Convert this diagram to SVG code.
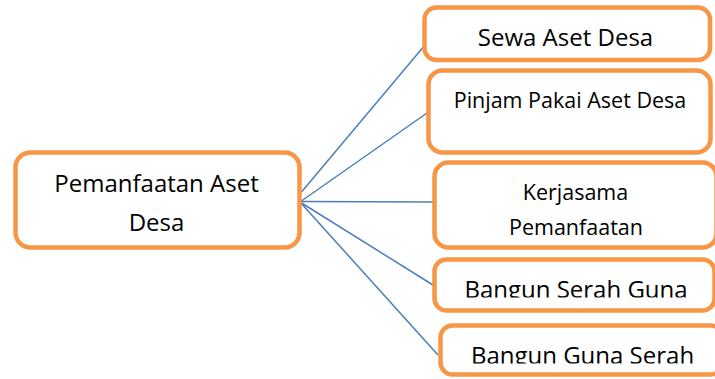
<svg xmlns="http://www.w3.org/2000/svg" width="715" height="379" viewBox="0 0 715 379">
<style>
.box{fill:#fff;stroke:#F79646;stroke-width:4.5}
.lbl{font-family:"Open Sans","Noto Sans",sans-serif;fill:#000;text-anchor:middle}
.big{font-size:24px}
.sm{font-size:21.5px}
.conn line{stroke:#4A7EBB;stroke-width:1.5}
</style>
<defs>
<clipPath id="c4"><rect x="0" y="0" width="715" height="297.5"/></clipPath>
<clipPath id="c5"><rect x="0" y="0" width="715" height="363.5"/></clipPath>
</defs>
<rect width="715" height="379" fill="#fff"/>
<g id="connectors" class="conn">
<line x1="301.5" y1="192" x2="425" y2="45"/>
<line x1="300" y1="202" x2="427" y2="113"/>
<line x1="300" y1="201.5" x2="433" y2="202"/>
<line x1="300" y1="202" x2="433" y2="285"/>
<line x1="300" y1="202" x2="438" y2="355"/>
</g>
<g id="main">
<rect class="box" x="15.5" y="152.5" width="284" height="95" rx="15"/>
<text class="lbl big" x="156.5" y="192">Pemanfaatan Aset</text>
<text class="lbl big" x="156.5" y="231">Desa</text>
</g>
<g id="sewa">
<rect class="box" x="424.5" y="7.5" width="285.5" height="52.5" rx="12"/>
<text class="lbl big" x="565.5" y="46">Sewa Aset Desa</text>
</g>
<g id="pinjam">
<rect class="box" x="428.5" y="70.5" width="282" height="82" rx="14"/>
<text class="lbl sm" x="570" y="108">Pinjam Pakai Aset Desa</text>
</g>
<g id="kerjasama">
<rect class="box" x="434.5" y="162.5" width="282" height="85" rx="14"/>
<text class="lbl sm" x="575.5" y="200">Kerjasama</text>
<text class="lbl sm" x="576" y="235">Pemanfaatan</text>
</g>
<g id="bsg">
<rect class="box" x="434.5" y="259.5" width="280" height="51" rx="12"/>
<text class="lbl big" x="576" y="297.5" clip-path="url(#c4)">Bangun Serah Guna</text>
</g>
<g id="bgs">
<rect class="box" x="440.5" y="325.5" width="282" height="49" rx="12"/>
<text class="lbl big" x="582.5" y="364" clip-path="url(#c5)">Bangun Guna Serah</text>
</g>
</svg>
